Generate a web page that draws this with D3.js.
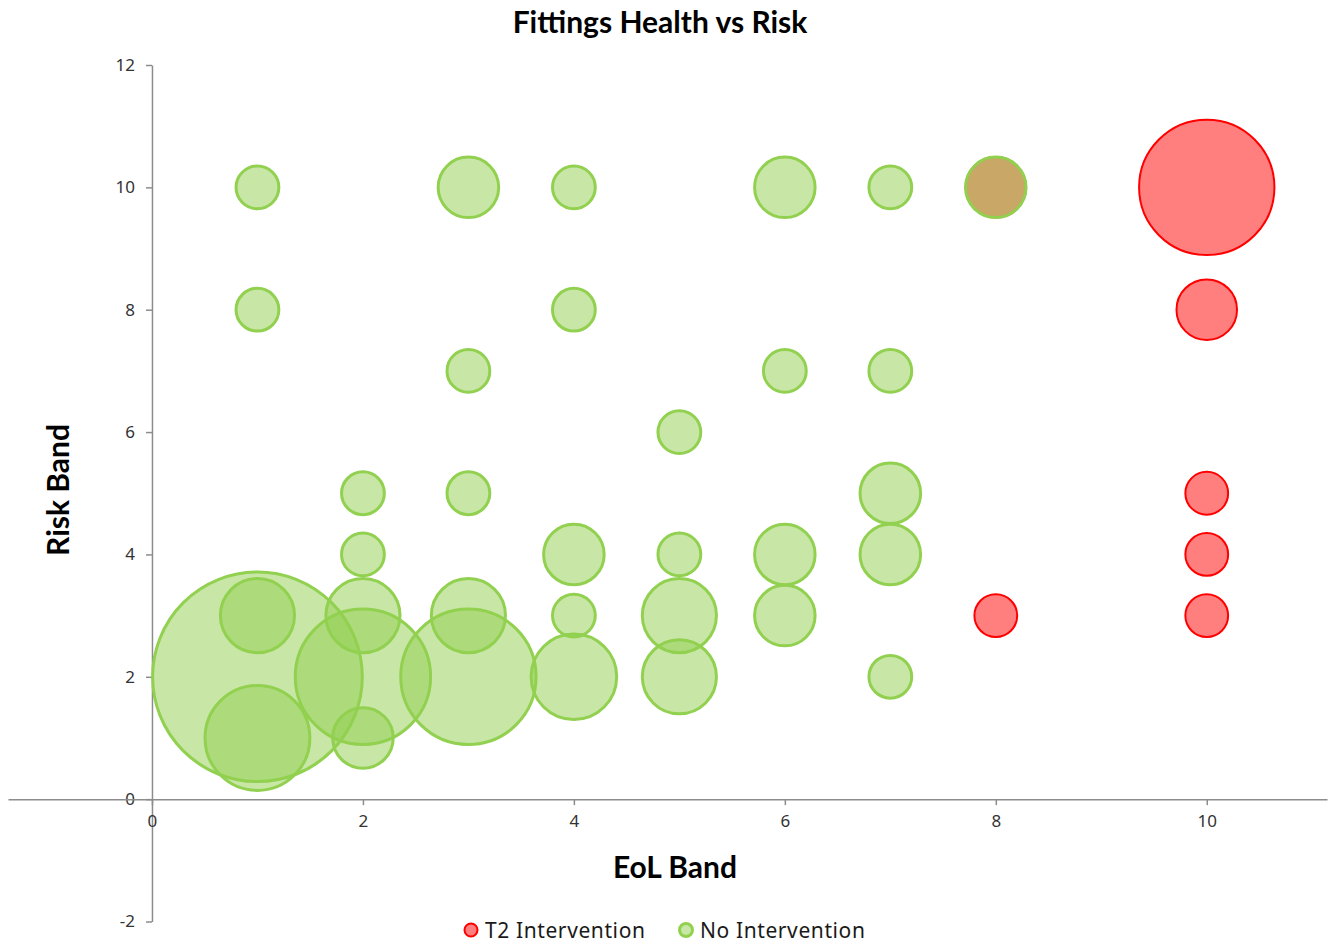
<!DOCTYPE html>
<html>
<head>
<meta charset="utf-8">
<script src="https://cdn.jsdelivr.net/npm/d3@7"></script>
<style>
  body { margin: 0; background: #fff; }
  #chart { width: 1335px; height: 947px; }
</style>
</head>
<body>
<div id="chart"></div>
<script>
// ── Data ──────────────────────────────────────
const SERIES_NAMES = ["T2 Intervention", "No Intervention"];

// T2 Intervention
const t2Eol  = [10, 10, 10, 10, 10, 8, 8];
const t2Risk = [10, 8, 5, 4, 3, 3, 10];
const t2Size = [10, 2, 1, 1, 1, 1, 2];

// No Intervention
const noEol  = [1, 3, 4, 6, 7, 8,  1, 4,  3, 6, 7,  5,  2, 3, 7,  2, 4, 5, 6, 7,  1, 2, 3, 4, 5, 6,  1, 2, 3, 4, 5, 7,  1, 2];
const noRisk = [10, 10, 10, 10, 10, 10,  8, 8,  7, 7, 7,  6,  5, 5, 5,  4, 4, 4, 4, 4,  3, 3, 3, 3, 3, 3,  2, 2, 2, 2, 2, 2,  1, 1];
const noSize = [1, 2, 1, 2, 1, 2,  1, 1,  1, 1, 1,  1,  1, 1, 2,  1, 2, 1, 2, 2,  3, 3, 3, 1, 3, 2,  24, 10, 10, 4, 3, 1,  6, 2];

const xTicks = [0, 2, 4, 6, 8, 10];
const yTicks = [-2, 0, 2, 4, 6, 8, 10, 12];

// ── Setup ─────────────────────────────────────
const W = 1335, H = 947;
const FONT = "'Noto Sans', 'Open Sans', sans-serif";
const AXIS_COLOR = "#8c8c8c";
const TEXT_COLOR = "#333";

const svg = d3.select("#chart").append("svg")
  .attr("width", W).attr("height", H);

const x = d3.scaleLinear().domain([-1.365, 11.14]).range([8, 1327]);
const y = d3.scaleLinear().domain([-2, 12]).range([921.5, 65]);

const allSizes = t2Size.concat(noSize);
const maxSize = d3.max(allSizes);
const r = d3.scaleSqrt().domain([0, maxSize]).range([0, 21.4 * Math.sqrt(maxSize)]);

const styles = [
  { fill: "rgba(255,0,0,0.5)",    stroke: "#ff0000", sw: 2 },
  { fill: "rgba(146,208,80,0.5)", stroke: "#92d050", sw: 3 }
];

function rows(xs, ys, ss) {
  return xs.map((d, i) => ({ x: d, y: ys[i], s: ss[i] }))
    .sort((a, b) => b.s - a.s);
}
const seriesData = [rows(t2Eol, t2Risk, t2Size), rows(noEol, noRisk, noSize)];

// ── Axes ──────────────────────────────────────
const fmt = d => String(d);   // plain hyphen for negatives, like Excel

const yAxis = svg.append("g")
  .attr("transform", `translate(${x(0)},0)`)
  .call(d3.axisLeft(y).tickValues(yTicks).tickFormat(fmt)
    .tickSize(6).tickSizeOuter(0).tickPadding(11));

const xAxis = svg.append("g")
  .attr("transform", `translate(0,${y(0)})`)
  .call(d3.axisBottom(x).tickValues(xTicks).tickFormat(fmt)
    .tickSize(6).tickSizeOuter(0).tickPadding(10));

[xAxis, yAxis].forEach(a => {
  a.select(".domain").attr("stroke", AXIS_COLOR).attr("stroke-width", 1.5);
  a.selectAll(".tick line").attr("stroke", AXIS_COLOR).attr("stroke-width", 1.5);
  a.selectAll("text").attr("font-family", FONT).attr("font-size", "17px").attr("fill", TEXT_COLOR);
});

// ── Bubbles ───────────────────────────────────
seriesData.forEach((data, k) => {
  svg.append("g").selectAll("circle").data(data).join("circle")
    .attr("cx", d => x(d.x))
    .attr("cy", d => y(d.y))
    .attr("r", d => r(d.s))
    .attr("fill", styles[k].fill)
    .attr("stroke", styles[k].stroke)
    .attr("stroke-width", styles[k].sw);
});

// ── Titles ────────────────────────────────────
svg.append("text").attr("x", 660).attr("y", 33)
  .attr("text-anchor", "middle").attr("font-family", "Lato, sans-serif")
  .attr("font-weight", "bold").attr("font-size", "30px").attr("fill", "#000")
  .text("Fittings Health vs Risk");

svg.append("text").attr("x", 675).attr("y", 878)
  .attr("text-anchor", "middle").attr("font-family", "Lato, sans-serif")
  .attr("font-weight", "bold").attr("font-size", "30px").attr("fill", "#000")
  .text("EoL Band");

svg.append("text").attr("transform", "translate(69,490) rotate(-90)")
  .attr("text-anchor", "middle").attr("font-family", "Lato, sans-serif")
  .attr("font-weight", "bold").attr("font-size", "30px").attr("fill", "#000")
  .text("Risk Band");

// ── Legend ────────────────────────────────────
const legendItems = [{ x: 471 }, { x: 686 }];
legendItems.forEach((it, k) => {
  svg.append("circle").attr("cx", it.x).attr("cy", 930).attr("r", 6.5)
    .attr("fill", styles[k].fill).attr("stroke", styles[k].stroke)
    .attr("stroke-width", k === 0 ? 2 : 3);
  svg.append("text").attr("x", it.x + 14).attr("y", 938)
    .attr("font-family", FONT).attr("font-size", "21px").attr("fill", "#1a1a1a")
    .attr("letter-spacing", "0.6px")
    .text(SERIES_NAMES[k]);
});
</script>
</body>
</html>
